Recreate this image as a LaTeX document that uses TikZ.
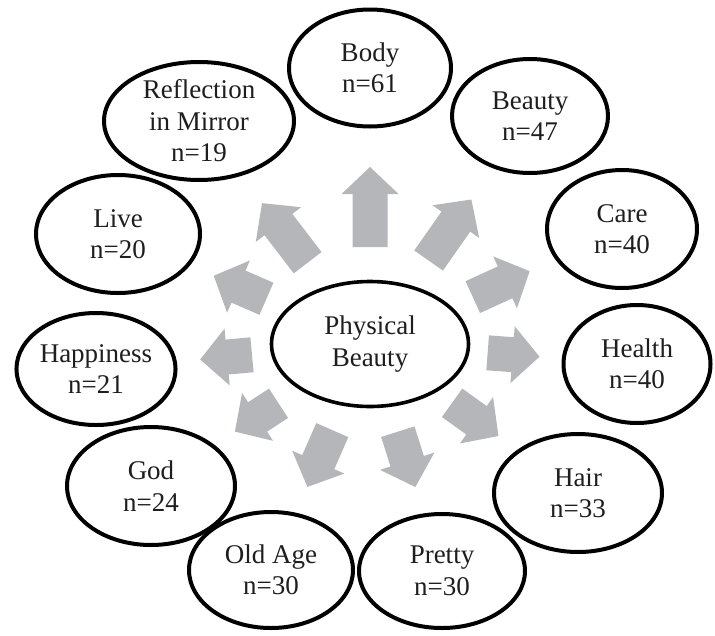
\documentclass[tikz,border=0pt]{standalone}
\usepackage{fontspec}
\setmainfont{Liberation Serif}
\usetikzlibrary{shapes.geometric,calc}
\definecolor{arrowgrey}{RGB}{180,182,186}
\definecolor{inkc}{RGB}{30,30,30}
\tikzset{
  oval/.style={ellipse, draw=black, line width=4pt, inner sep=0pt, align=center,
    text=inkc, font=\fontsize{27}{31.5}\selectfont},
}
\newcommand\blockarrow[4]{%
  \coordinate (bT) at ($(#1.center)!#3pt!(#2.center)$);
  \coordinate (bP) at ($(#1.center)!#4pt!(#2.center)$);
  \coordinate (bH) at ($(bP)!27pt!(bT)$);
  \fill[arrowgrey] ($(bT)!17.5pt!90:(bP)$) -- ($(bH)!17.5pt!90:(bP)$) -- ($(bH)!28.5pt!90:(bP)$) -- (bP)
    -- ($(bH)!28.5pt!-90:(bP)$) -- ($(bH)!17.5pt!-90:(bP)$) -- ($(bT)!17.5pt!-90:(bP)$) -- cycle;}
\begin{document}
\begin{tikzpicture}[x=1pt,y=-1pt]
\fill[white] (0,0) rectangle (715,635);
\useasboundingbox (0,0) rectangle (715,635);
\node[oval, line width=3.6pt, minimum width=197pt, minimum height=125pt] (c) at (370,344) {Physical\\Beauty};
\node[oval, minimum width=162pt, minimum height=117pt] (body) at (370,68) {Body\\n=61};
\node[oval, minimum width=156pt, minimum height=114pt] (beauty) at (530,116) {Beauty\\n=47};
\node[oval, minimum width=150pt, minimum height=118pt] (care) at (622,229) {Care\\n=40};
\node[oval, minimum width=147pt, minimum height=118pt] (health) at (637,364) {Health\\n=40};
\node[oval, minimum width=168pt, minimum height=118pt] (hair) at (578,493) {Hair\\n=33};
\node[oval, minimum width=166pt, minimum height=114pt] (pretty) at (442,571) {Pretty\\n=30};
\node[oval, minimum width=164pt, minimum height=116pt] (oldage) at (271,570) {Old Age\\n=30};
\node[oval, minimum width=168pt, minimum height=118pt] (god) at (151,486) {God\\n=24};
\node[oval, minimum width=158pt, minimum height=112pt] (happy) at (96,369) {Happiness\\n=21};
\node[oval, minimum width=164pt, minimum height=118pt] (live) at (118,234) {Live\\n=20};
\node[oval, minimum width=190pt, minimum height=118pt] (refl) at (199,121) {Reflection\\in Mirror\\n=19};
\blockarrow{c}{body}{97}{177}
\blockarrow{c}{beauty}{102}{176.5}
\blockarrow{c}{care}{113}{175.5}
\blockarrow{c}{health}{118}{170}
\blockarrow{c}{hair}{101}{158}
\blockarrow{c}{pretty}{92}{150}
\blockarrow{c}{oldage}{94}{156}
\blockarrow{c}{god}{109}{161}
\blockarrow{c}{happy}{118.5}{170.5}
\blockarrow{c}{live}{113}{170.5}
\blockarrow{c}{refl}{102.5}{177.5}
\end{tikzpicture}
\end{document}
